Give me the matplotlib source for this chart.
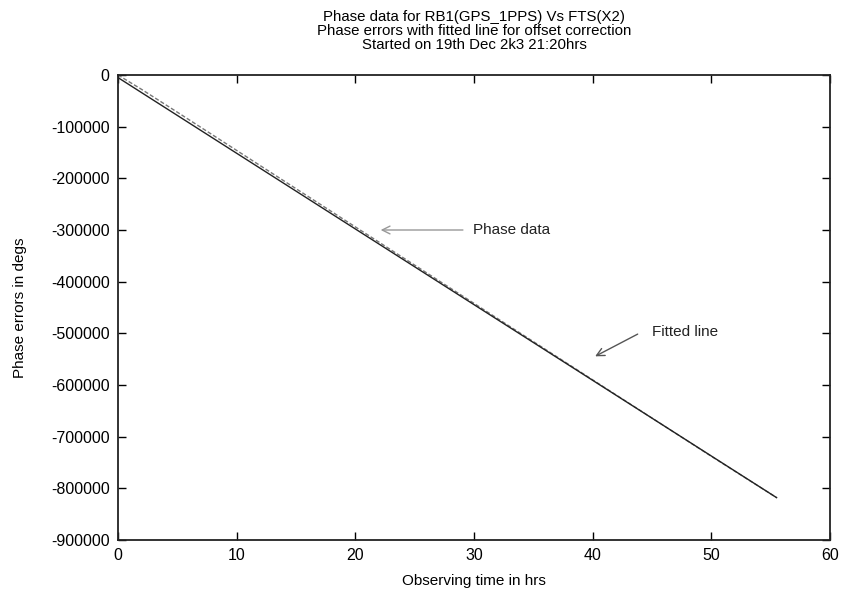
import matplotlib
matplotlib.use("Agg")
import matplotlib.pyplot as plt

plt.rcParams['font.family'] = ['Liberation Sans', 'DejaVu Sans']

# Data
phase_t = [0, 2, 5, 10, 15, 20, 25, 30, 35, 40, 45, 50, 55.5]
phase_deg = [0, -28000, -72000, -146000, -220000, -294000, -368000, -442000,
             -516000, -590000, -664000, -738000, -818000]
fit_t = [0, 55.5]
fit_deg = [-5000, -818000]

xticks = [0, 10, 20, 30, 40, 50, 60]
yticks = [0, -100000, -200000, -300000, -400000, -500000, -600000,
          -700000, -800000, -900000]

title = ("Phase data for RB1(GPS_1PPS) Vs FTS(X2)\n"
         "Phase errors with fitted line for offset correction\n"
         "Started on 19th Dec 2k3 21:20hrs")

fig = plt.figure(figsize=(8.44, 5.94), dpi=100)
ax = fig.add_axes([118/844, 54/594, 712/844, 465/594])

ax.plot(phase_t, phase_deg, color='#777777', lw=1.0, ls=(0, (3, 1.5)))
ax.plot(fit_t, fit_deg, color='#222222', lw=1.0)

ax.set_xlim(0, 60)
ax.set_ylim(-900000, 0)
ax.set_xticks(xticks)
ax.set_yticks(yticks)
ax.set_yticklabels([str(v) for v in yticks])
ax.tick_params(direction='in', top=True, right=True, length=6, width=1,
               labelsize=11.5, pad=6)
for s in ax.spines.values():
    s.set_linewidth(1.3)
    s.set_color('#222222')

ax.set_xlabel("Observing time in hrs", fontsize=11, labelpad=8)
ax.set_ylabel("Phase errors in degs", fontsize=11, labelpad=17)
ax.set_title(title, fontsize=10.8, linespacing=1.0, pad=19)

ax.annotate("", xy=(21.9, -300000), xytext=(29.3, -300000),
            arrowprops=dict(arrowstyle='->', color='#999999', lw=1.0,
                            mutation_scale=14))
ax.text(29.9, -300000, "Phase data", fontsize=11, va='center', ha='left',
        color='#222222')
ax.annotate("", xy=(40.0, -547000), xytext=(44.0, -499000),
            arrowprops=dict(arrowstyle='->', color='#555555', lw=1.0,
                            mutation_scale=14))
ax.text(45.0, -497000, "Fitted line", fontsize=11, va='center', ha='left',
        color='#222222')

fig.savefig("out.png", dpi=100)
